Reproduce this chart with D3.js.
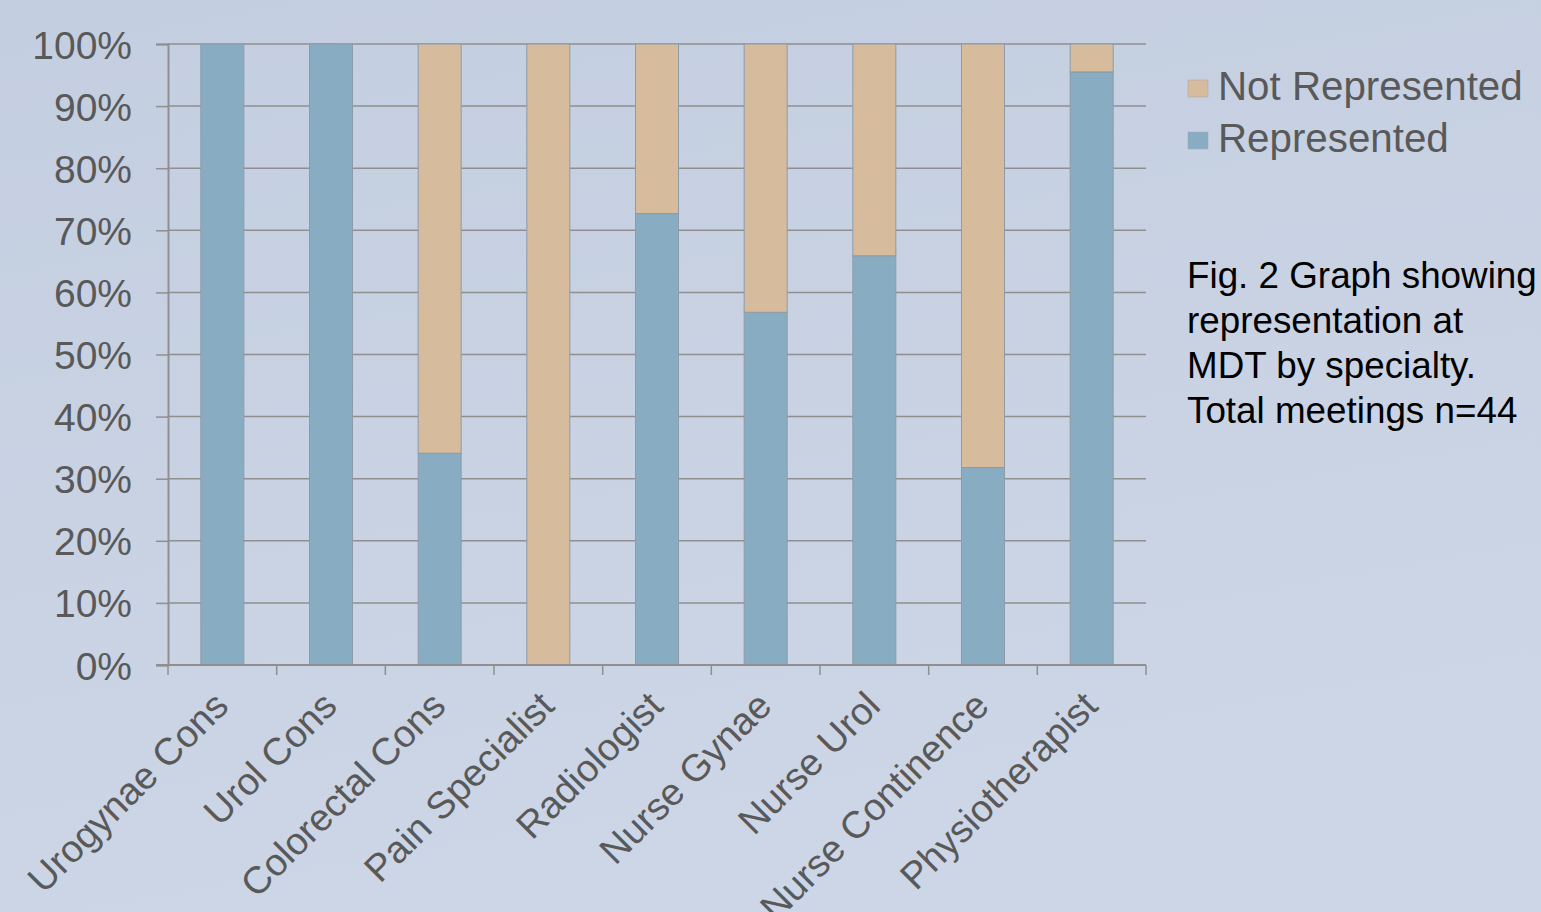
<!DOCTYPE html>
<html><head><meta charset="utf-8">
<script src="https://cdn.jsdelivr.net/npm/d3@7"></script>
<style>html,body{margin:0;padding:0;overflow:hidden;}svg{display:block;}</style>
</head><body>
<svg id="chart" width="1541" height="912"></svg>
<script>
const categories = ["Urogynae Cons","Urol Cons","Colorectal Cons","Pain Specialist","Radiologist","Nurse Gynae","Nurse Urol","Nurse Continence","Physiotherapist"];
const represented = [100, 100, 34.1, 0, 72.7, 56.8, 65.9, 31.8, 95.5];
const notRepresented = [0, 0, 65.9, 100, 27.3, 43.2, 34.1, 68.2, 4.5];
const yTicks = [0,10,20,30,40,50,60,70,80,90,100];
const seriesNames = ["Not Represented","Represented"];
const seriesColors = ["#d6bb9c","#88adc2"];
const captionLines = ["Fig. 2 Graph showing","representation at","MDT by specialty.","Total meetings n=44"];

const svg = d3.select("#chart");
const W = 1541, H = 912;
const defs = svg.append("defs");
const grad = defs.append("linearGradient").attr("id","bg").attr("x1",0).attr("y1",0).attr("x2",0.3).attr("y2",1);
grad.append("stop").attr("offset","0%").attr("stop-color","#c3cee0");
grad.append("stop").attr("offset","100%").attr("stop-color","#cdd6e6");
svg.append("rect").attr("width",W).attr("height",H).attr("fill","url(#bg)");

const x0 = 168, x1 = 1146, yTop = 44, yBot = 665;
const x = d3.scaleBand().domain(categories).range([x0,x1]).paddingInner(0).paddingOuter(0);
const y = d3.scaleLinear().domain([0,100]).range([yBot,yTop]);
const font = "'Liberation Sans', Arial, sans-serif";
const grey = "#595959";
const lineCol = "#8f8f8f";

// gridlines + y ticks
const yAxis = d3.axisLeft(y).tickValues(yTicks).tickSize(12).tickPadding(24).tickFormat(d => d + "%");
const gy = svg.append("g").attr("transform",`translate(${x0},0)`).call(yAxis);
gy.select(".domain").attr("stroke",lineCol).attr("stroke-width",2);
gy.selectAll(".tick line").attr("stroke",lineCol).attr("stroke-width",1.5);
gy.selectAll(".tick text").attr("fill",grey).attr("font-family",font).attr("font-size",39).attr("dy","0.36em");
svg.append("g").selectAll("line").data(yTicks.filter(d=>d>0)).join("line")
  .attr("x1",x0).attr("x2",x1).attr("y1",d=>y(d)).attr("y2",d=>y(d))
  .attr("stroke",lineCol).attr("stroke-width",1.5);

// stacked bars
const rows = categories.map((c,i)=>({cat:c,"Represented":represented[i],"Not Represented":notRepresented[i]}));
const stack = d3.stack().keys(["Represented","Not Represented"])(rows);
const color = d3.scaleOrdinal().domain(seriesNames).range(seriesColors);
const barW = 43;
svg.append("g").selectAll("g").data(stack).join("g").attr("fill",d=>color(d.key))
  .selectAll("rect").data(d=>d).join("rect")
  .attr("x",d=>x(d.data.cat)+x.bandwidth()/2-barW/2)
  .attr("width",barW)
  .attr("y",d=>y(d[1]))
  .attr("height",d=>Math.max(0,y(d[0])-y(d[1])))
  .attr("stroke",d=>(d[1]-d[0])>0?"#8d9ba8":"none").attr("stroke-width",1);

// x axis
svg.append("line").attr("x1",x0-12).attr("x2",x1).attr("y1",yBot).attr("y2",yBot).attr("stroke",lineCol).attr("stroke-width",2);
const bounds = categories.map(c=>x(c)).concat([x1]);
svg.append("g").selectAll("line").data(bounds).join("line")
  .attr("x1",d=>d).attr("x2",d=>d).attr("y1",yBot).attr("y2",yBot+10).attr("stroke",lineCol).attr("stroke-width",1.5);
svg.append("g").selectAll("text").data(categories).join("text")
  .attr("transform",d=>`translate(${x(d)+x.bandwidth()/2+8},${yBot+43}) rotate(-45)`)
  .attr("text-anchor","end").attr("fill",grey).attr("font-family",font).attr("font-size",38)
  .text(d=>d);

// legend
const leg = svg.append("g").attr("transform","translate(1188,0)");
seriesNames.forEach((s,i)=>{
  const yy = 80 + i*52;
  leg.append("rect").attr("x",0).attr("y",yy).attr("width",20).attr("height",17).attr("fill",color(s)).attr("stroke","#a0a8b4").attr("stroke-width",0.5);
  leg.append("text").attr("x",30).attr("y",yy+20).attr("fill",grey).attr("font-family",font).attr("font-size",40.3).text(s);
});

// caption
svg.append("g").selectAll("text").data(captionLines).join("text")
  .attr("x",1187).attr("y",(d,i)=>288+i*45).attr("fill","#000").attr("font-family",font).attr("font-size",36.8).text(d=>d);
</script>
</body></html>
